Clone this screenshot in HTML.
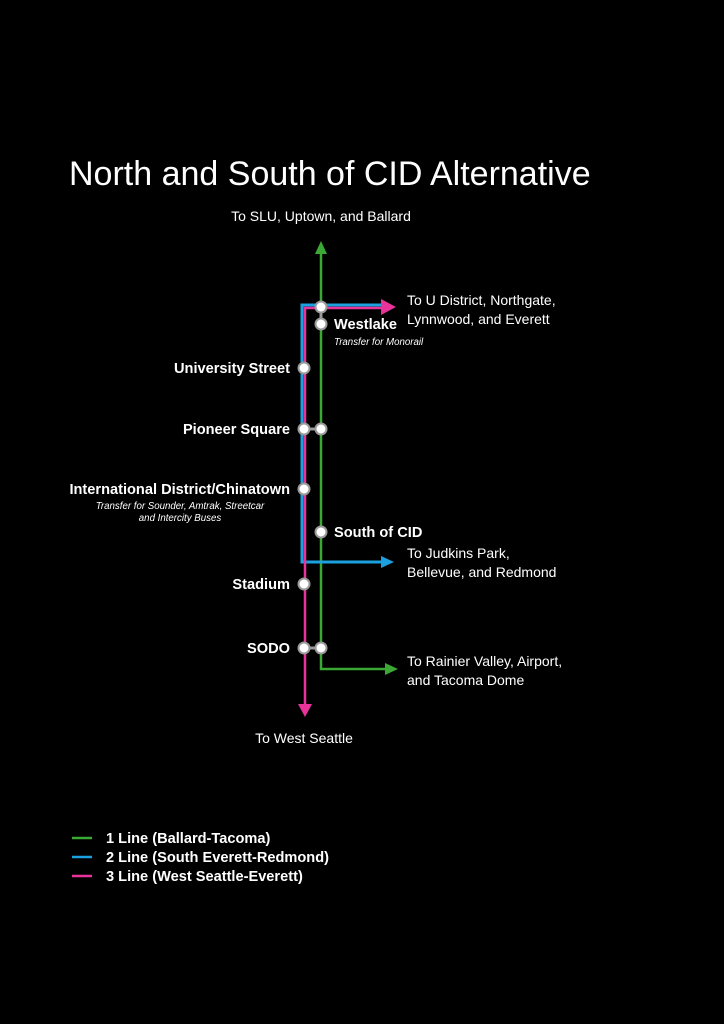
<!DOCTYPE html>
<html><head><meta charset="utf-8"><style>
html,body{margin:0;padding:0;background:#000;}
svg{display:block;font-family:"Liberation Sans",sans-serif;}
</style></head><body>
<svg width="724" height="1024" viewBox="0 0 724 1024" xmlns="http://www.w3.org/2000/svg">
<rect width="724" height="1024" fill="#000"/>
<text x="69" y="185" fill="#fff" font-size="34">North and South of CID Alternative</text>
<text x="321" y="221" fill="#fff" font-size="14" text-anchor="middle">To SLU, Uptown, and Ballard</text>
<polyline points="321,252 321,669 388,669" fill="none" stroke="#3aa832" stroke-width="2.5"/>
<polygon points="321,241 315,254 327,254" fill="#3aa832"/>
<polygon points="398,669 385,663 385,675" fill="#3aa832"/>
<polyline points="384,305 302,305 302,562 382,562" fill="none" stroke="#1ba0e0" stroke-width="3"/>
<polygon points="394,562 381,556 381,568" fill="#1ba0e0"/>
<polyline points="384,308 305,308 305,706" fill="none" stroke="#e8339a" stroke-width="2.5"/>
<polygon points="396,307 381,299 381,315" fill="#e8339a"/>
<polygon points="305,717 298,704 312,704" fill="#e8339a"/>
<g stroke="#999" stroke-width="3">
<line x1="321" y1="307" x2="321" y2="324"/>
<line x1="304" y1="429" x2="321" y2="429"/>
<line x1="304" y1="648" x2="321" y2="648"/>
</g>
<g fill="#fff" stroke="#999" stroke-width="2">
<circle cx="321" cy="307" r="5.5"/>
<circle cx="321" cy="324" r="5.5"/>
<circle cx="304" cy="368" r="5.5"/>
<circle cx="304" cy="429" r="5.5"/>
<circle cx="321" cy="429" r="5.5"/>
<circle cx="304" cy="489" r="5.5"/>
<circle cx="321" cy="532" r="5.5"/>
<circle cx="304" cy="584" r="5.5"/>
<circle cx="304" cy="648" r="5.5"/>
<circle cx="321" cy="648" r="5.5"/>
</g>
<g fill="#fff" font-size="14.6" font-weight="bold">
<text x="334" y="329">Westlake</text>
<text x="290" y="373" text-anchor="end">University Street</text>
<text x="290" y="434" text-anchor="end">Pioneer Square</text>
<text x="290" y="494" text-anchor="end">International District/Chinatown</text>
<text x="334" y="537">South of CID</text>
<text x="290" y="589" text-anchor="end">Stadium</text>
<text x="290" y="653" text-anchor="end">SODO</text>
</g>
<g fill="#fff" font-size="9.7" font-style="italic">
<text x="334" y="345">Transfer for Monorail</text>
<text x="180" y="509" text-anchor="middle">Transfer for Sounder, Amtrak, Streetcar</text>
<text x="180" y="521" text-anchor="middle">and Intercity Buses</text>
</g>
<g fill="#fff" font-size="14">
<text x="407" y="305">To U District, Northgate,</text>
<text x="407" y="324">Lynnwood, and Everett</text>
<text x="407" y="558">To Judkins Park,</text>
<text x="407" y="577">Bellevue, and Redmond</text>
<text x="407" y="666">To Rainier Valley, Airport,</text>
<text x="407" y="685">and Tacoma Dome</text>
<text x="304" y="743" text-anchor="middle">To West Seattle</text>
</g>
<line x1="72" y1="838" x2="92" y2="838" stroke="#3aa832" stroke-width="2.5"/>
<line x1="72" y1="857" x2="92" y2="857" stroke="#1ba0e0" stroke-width="2.5"/>
<line x1="72" y1="876" x2="92" y2="876" stroke="#e8339a" stroke-width="2.5"/>
<g fill="#fff" font-size="14.6" font-weight="bold">
<text x="106" y="843">1 Line (Ballard-Tacoma)</text>
<text x="106" y="862">2 Line (South Everett-Redmond)</text>
<text x="106" y="881">3 Line (West Seattle-Everett)</text>
</g>
</svg>
</body></html>
